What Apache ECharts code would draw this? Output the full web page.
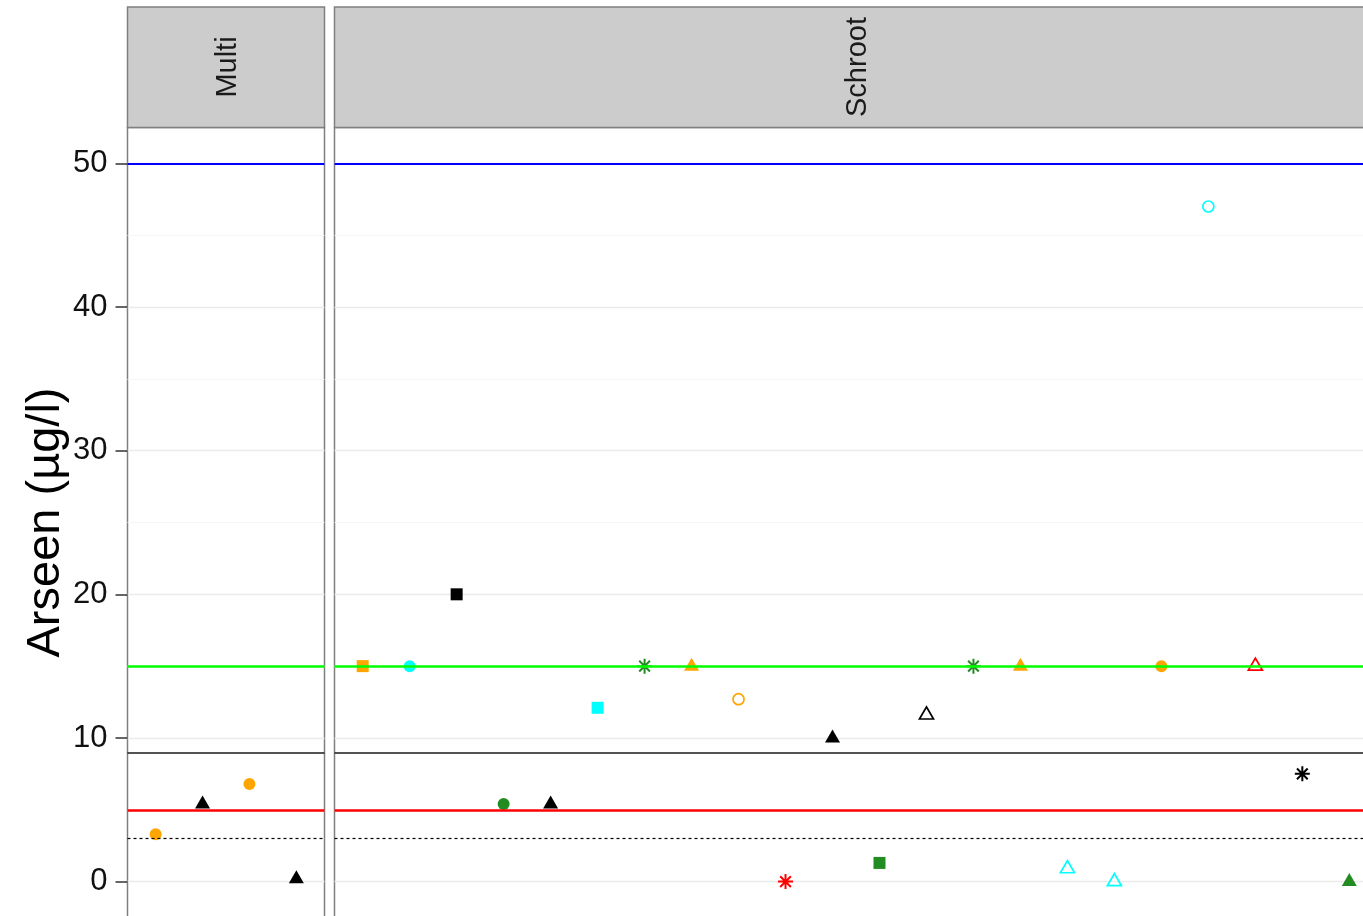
<!DOCTYPE html>
<html>
<head>
<meta charset="utf-8">
<script src="https://cdn.jsdelivr.net/npm/echarts@6/dist/echarts.min.js"></script>
<style>
html,body{margin:0;padding:0;background:#ffffff;}
#chart{width:1363px;height:916px;}
</style>
</head>
<body>
<div id="chart"></div>
<script>
// ---------- data ----------
const panels = ['Multi', 'Schroot'];
const yTicks = [0, 10, 20, 30, 40, 50];
const yMinorTicks = [5, 15, 25, 35, 45];
const yTitle = 'Arseen (µg/l)';

// facet "Multi"
const multiValues = [3.3, 5.4, 6.8, 0.2];
const multiColour = ['orange', 'black', 'orange', 'black'];
const multiShape  = ['circle', 'triangle', 'circle', 'triangle'];

// facet "Schroot"
const schrootValues = [15, 15, 20, 5.4, 5.4, 12.1, 15, 15, 12.7, 0, 10, 1.3, 11.6, 15, 15, 0.9, 0, 15, 47, 15, 7.5, 0];
const schrootColour = ['orange', 'cyan', 'black', 'forestgreen', 'black', 'cyan', 'forestgreen', 'orange', 'orange', 'red', 'black',
                       'forestgreen', 'black', 'forestgreen', 'orange', 'cyan', 'cyan', 'orange', 'cyan', 'red', 'black', 'forestgreen'];
const schrootShape  = ['square', 'circle', 'square', 'circle', 'triangle', 'square', 'asterisk', 'triangle', 'circleOpen', 'asterisk', 'triangle',
                       'square', 'triangleOpen', 'asterisk', 'triangle', 'triangleOpen', 'triangleOpen', 'circle', 'circleOpen', 'triangleOpen', 'asterisk', 'triangle'];

// reference lines (limits)
const refLineValues = [50, 15, 9, 5, 3];
const refLineKeys   = ['blue', 'green', 'black', 'red', 'dotted'];

// ---------- styles ----------
const FONT = '"Liberation Sans", Arial, Helvetica, sans-serif';
const COLOURS = {orange: '#FFA500', cyan: '#00FFFF', black: '#000000', forestgreen: '#228B22', red: '#FF0000'};
const REF_STYLE = {
  blue:   {color: '#0000FF', width: 2.2, type: 'solid'},
  green:  {color: '#00FF00', width: 2.5, type: 'solid'},
  black:  {color: '#1A1A1A', width: 1.6, type: 'solid'},
  red:    {color: '#FF0000', width: 2.5, type: 'solid'},
  dotted: {color: '#000000', width: 1.2, type: [3, 3]}
};
const ASTERISK = 'path://M7,0L7,14M0,7L14,7M2,2L12,12M2,12L12,2';
const SHAPES = {
  circle:       {symbol: 'circle',   size: 12},
  circleOpen:   {symbol: 'circle',   size: 11, open: true, lw: 1.7},
  square:       {symbol: 'rect',     size: 12},
  triangle:     {symbol: 'triangle', size: [15, 13], offset: [0, -2]},
  triangleOpen: {symbol: 'triangle', size: [14, 12], offset: [0, -2], open: true, lw: 1.7},
  asterisk:     {symbol: ASTERISK,   size: 15, open: true, lw: 2}
};

const TOP = 127.5, HEIGHT = 790;
const GRIDS = [
  {left: 127.5, width: 197},
  {left: 334.5, width: 1043}
];

function pointData(values, colours, shapes) {
  return values.map((v, i) => {
    const c = COLOURS[colours[i]];
    const s = SHAPES[shapes[i]];
    return {
      value: [i + 1, v],
      symbol: s.symbol,
      symbolSize: s.size,
      symbolOffset: s.offset || [0, 0],
      itemStyle: s.open
        ? {color: 'rgba(0,0,0,0)', borderColor: c, borderWidth: s.lw, opacity: 1}
        : {color: c, borderWidth: 0, opacity: 1}
    };
  });
}

const facetData = [
  pointData(multiValues, multiColour, multiShape),
  pointData(schrootValues, schrootColour, schrootShape)
];
const facetCounts = [multiValues.length, schrootValues.length];

const grid = GRIDS.map(g => ({
  left: g.left, width: g.width, top: TOP, height: HEIGHT,
  show: true, backgroundColor: '#FFFFFF', borderColor: '#7F7F7F', borderWidth: 1.5,
  containLabel: false, outerBoundsMode: 'none'
}));

const xAxis = facetCounts.map((n, k) => ({
  type: 'value', gridIndex: k, min: 0.4, max: n + 0.6, show: false
}));

const yAxis = [0, 1].map(k => ({
  type: 'value', gridIndex: k, min: -2.5, max: 52.5,
  name: k === 0 ? yTitle : '',
  nameLocation: 'middle', nameRotate: 90, nameGap: 55,
  nameTextStyle: {fontSize: 47, fontFamily: FONT, color: '#000000'},
  axisLine: {show: false},
  axisTick: {show: k === 0, customValues: yTicks, length: 12, lineStyle: {color: '#333333', width: 1.5}},
  axisLabel: {show: k === 0, customValues: yTicks, fontSize: 31, fontFamily: FONT, color: '#111111', margin: 20},
  splitLine: {show: true, lineStyle: {color: '#EBEBEB', width: 1.3}}
}));

const series = [];
[0, 1].forEach(k => {
  // minor grid lines
  series.push({
    type: 'scatter', xAxisIndex: k, yAxisIndex: k, data: [], z: 1, silent: true,
    markLine: {
      silent: true, symbol: ['none', 'none'], label: {show: false}, animation: false,
      lineStyle: {color: '#F5F5F5', width: 1, type: 'solid'},
      data: yMinorTicks.map(v => ({yAxis: v}))
    }
  });
  // points
  series.push({
    type: 'scatter', xAxisIndex: k, yAxisIndex: k, z: 3, silent: true,
    itemStyle: {opacity: 1},
    data: facetData[k]
  });
  // reference lines, drawn above the points
  series.push({
    type: 'scatter', xAxisIndex: k, yAxisIndex: k, data: [], z: 4, silent: true,
    markLine: {
      silent: true, symbol: ['none', 'none'], label: {show: false}, animation: false,
      data: refLineValues.map((v, j) => ({yAxis: v, lineStyle: Object.assign({}, REF_STYLE[refLineKeys[j]])}))
    }
  });
});

const graphic = panels.map((name, k) => ({
  type: 'group',
  children: [
    {type: 'rect', shape: {x: GRIDS[k].left, y: 7, width: GRIDS[k].width, height: TOP - 7},
     style: {fill: '#CCCCCC', stroke: '#7F7F7F', lineWidth: 1.5}},
    {type: 'text', x: GRIDS[k].left + GRIDS[k].width / 2 + 2, y: 67, rotation: Math.PI / 2,
     style: {text: name, fontSize: 29, fontFamily: FONT, fill: '#1A1A1A', align: 'center', verticalAlign: 'middle'}}
  ]
}));

const chart = echarts.init(document.getElementById('chart'), null, {renderer: 'canvas'});
chart.setOption({
  animation: false,
  backgroundColor: '#FFFFFF',
  grid: grid,
  xAxis: xAxis,
  yAxis: yAxis,
  series: series,
  graphic: graphic
});
</script>
</body>
</html>
